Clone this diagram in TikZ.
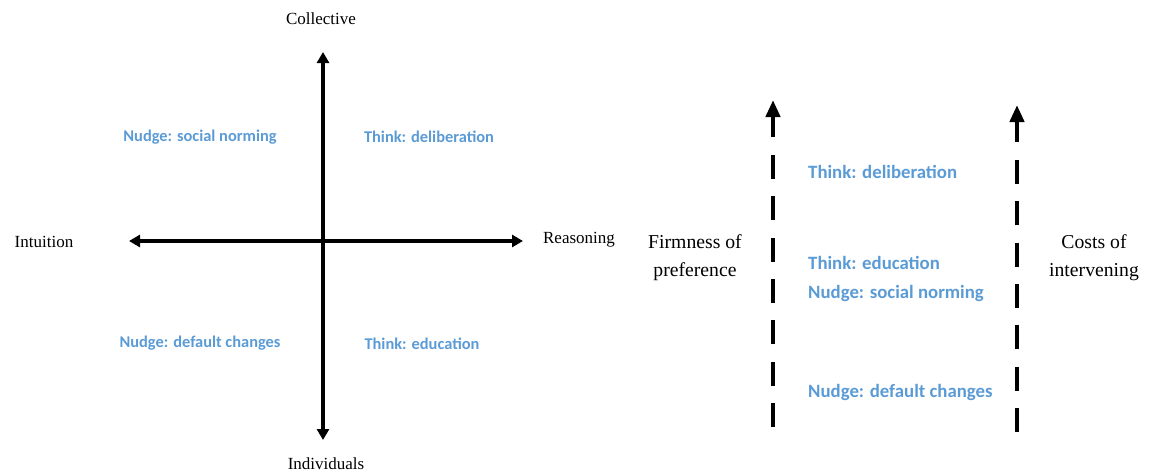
\documentclass[tikz,border=0pt]{standalone}
\usepackage{fontspec}
\setmainfont{Liberation Serif}
\newfontfamily\calib{Carlito}
\usetikzlibrary{arrows.meta}
\definecolor{accentblue}{HTML}{5B9BD5}
\begin{document}
\begin{tikzpicture}[x=1pt,y=-1pt,
  axislabel/.style={font=\fontsize{17}{19}\selectfont, inner sep=0pt},
  scalelabel/.style={font=\fontsize{19.7}{28}\selectfont, align=center, inner sep=0pt},
  quad/.style={font=\calib\bfseries\fontsize{16.4}{18}\selectfont, text=accentblue, inner sep=0pt},
  rank/.style={font=\calib\bfseries\fontsize{18.8}{20}\selectfont, text=accentblue, inner sep=0pt, anchor=west},
  axisline/.style={line width=3.8pt, {Triangle[length=11pt,width=12pt]}-{Triangle[length=11pt,width=12pt]}},
  dashline/.style={line width=4.4pt, dash pattern=on 24pt off 17.35pt},
  stem/.style={line width=4.4pt, -{Triangle[length=17pt,width=14pt]}},
]
\useasboundingbox (0,0) rectangle (1152,472);

% ---- two-axis map ----
\coordinate (top) at (323,52);
\coordinate (bottom) at (323,440);
\coordinate (left) at (129,241);
\coordinate (right) at (523,241);
\draw[axisline] (left) -- (right);
\draw[axisline] (bottom) -- (top);

\node[axislabel] (collective) at (321,19) {Collective};
\node[axislabel] (individuals) at (326,464) {Individuals};
\node[axislabel] (intuition) at (44,242) {Intuition};
\node[axislabel] (reasoning) at (579,240) {Reasoning};

\node[quad] (q1) at (200,137) {Nudge: social norming};
\node[quad] (q2) at (429,137) {Think: deliberation};
\node[quad] (q3) at (200,343) {Nudge: default changes};
\node[quad] (q4) at (422,344) {Think: education};

% ---- ranking scale ----
\coordinate (fa) at (773,427);
\coordinate (fb) at (773,155);
\coordinate (fc) at (773,137);
\coordinate (ft) at (773,100);
\draw[dashline] (fa) -- (fb);
\draw[stem] (fc) -- (ft);

\coordinate (ca) at (1017,432);
\coordinate (cb) at (1017,159);
\coordinate (cc) at (1017,142);
\coordinate (ct) at (1017,105);
\draw[dashline] (ca) -- (cb);
\draw[stem] (cc) -- (ct);

\node[scalelabel] (firm) at (695,258) {Firmness of\\preference};
\node[scalelabel] (costs) at (1094,258) {Costs of\\intervening};

\node[rank] (r1) at (808,172) {Think: deliberation};
\node[rank] (r2) at (808,263) {Think: education};
\node[rank] (r3) at (808,293) {Nudge: social norming};
\node[rank] (r4) at (808,392) {Nudge: default changes};
\end{tikzpicture}
\end{document}
